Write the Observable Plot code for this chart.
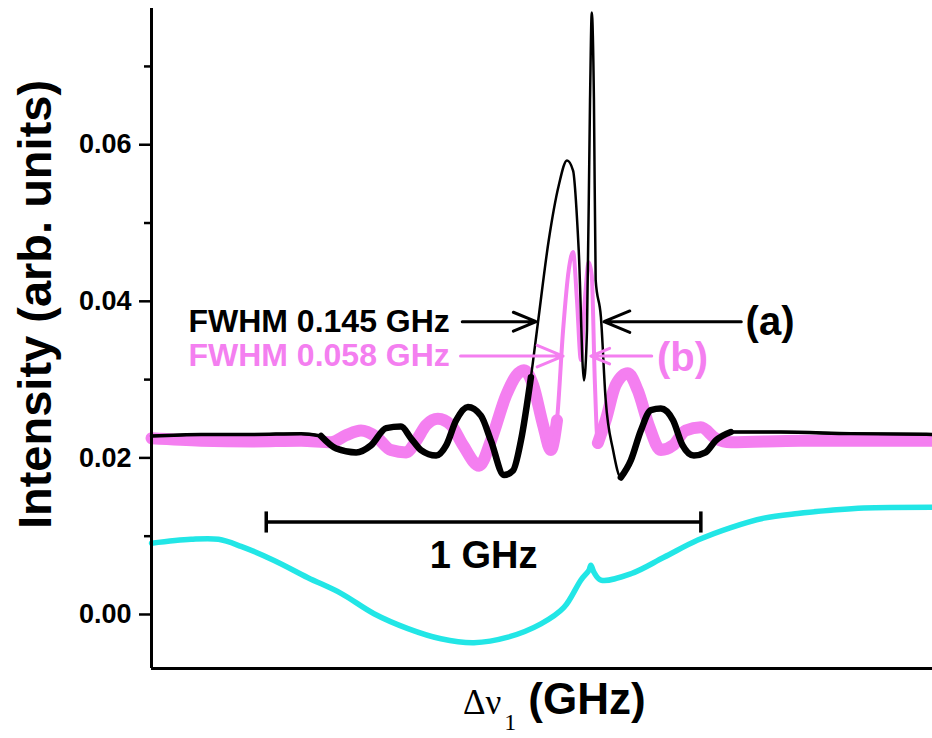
<!DOCTYPE html>
<html><head><meta charset="utf-8">
<script src="https://cdn.jsdelivr.net/npm/d3@7"></script>
<script src="https://cdn.jsdelivr.net/npm/@observablehq/plot@0.6"></script>
<style>
body{margin:0;background:#fff;}
#wrap{position:relative;width:932px;height:738px;overflow:hidden;}
#xlabel{position:absolute;top:677px;left:463px;white-space:nowrap;line-height:1;font-size:44px;}
#xlabel .dn{font-family:'Liberation Serif','Times New Roman',serif;font-size:35px;}
#xlabel .sub{font-family:'Liberation Serif','Times New Roman',serif;font-size:24px;position:relative;top:16px;margin-left:3px;}
#xlabel .ghz{font-family:'Liberation Sans',Arial,sans-serif;font-weight:bold;margin-left:12px;}
</style></head><body>
<div id="wrap"><div id="chart"></div>
<div id="xlabel"><span class="dn">Δν</span><span class="sub">1</span><span class="ghz">(GHz)</span></div>
</div>
<script>
// ---- data (x: detuning in GHz relative to the central spike; y: intensity, arb. units)
const aX = [-1.011,-0.897,-0.782,-0.667,-0.621,-0.586,-0.540,-0.506,-0.471,-0.437,
  -0.414,-0.391,-0.356,-0.333,-0.310,-0.283,-0.253,-0.230,-0.200,-0.179,
  -0.161,-0.138,-0.122,-0.097,-0.074,-0.055,-0.041,-0.028,-0.016,-0.009,
  -0.002,0.002,0.007,0.011,0.023,0.034,0.051,0.069,0.092,0.115,
  0.138,0.161,0.189,0.211,0.237,0.264,0.287,0.322,0.437,0.598,0.786];
const aY = [0.0228,0.0230,0.0230,0.0231,0.0228,0.0212,0.0207,0.0216,0.0238,0.0240,
  0.0225,0.0210,0.0203,0.0216,0.0248,0.0265,0.0254,0.0222,0.0178,0.0184,
  0.0222,0.0303,0.0372,0.0478,0.0548,0.0580,0.0567,0.0465,0.0299,0.0363,
  0.0657,0.0769,0.0657,0.0427,0.0380,0.0274,0.0210,0.0175,0.0197,0.0235,
  0.0261,0.0263,0.0248,0.0216,0.0203,0.0207,0.0222,0.0233,0.0233,0.0231,0.0230];

const bX = [-1.011,-0.897,-0.782,-0.667,-0.598,-0.563,-0.529,-0.494,-0.460,-0.425,
  -0.402,-0.379,-0.352,-0.322,-0.294,-0.257,-0.230,-0.195,-0.172,-0.154,
  -0.133,-0.110,-0.092,-0.078,-0.064,-0.051,-0.041,-0.032,-0.023,-0.014,
  -0.005,0.002,0.009,0.016,0.034,0.057,0.085,0.108,0.133,0.161,
  0.189,0.218,0.253,0.287,0.322,0.483,0.786];
const bY = [0.0225,0.0222,0.0221,0.0222,0.0220,0.0229,0.0235,0.0227,0.0210,0.0207,
  0.0222,0.0242,0.0250,0.0242,0.0216,0.0190,0.0222,0.0280,0.0305,0.0312,
  0.0293,0.0242,0.0210,0.0248,0.0363,0.0440,0.0463,0.0401,0.0325,0.0401,
  0.0450,0.0433,0.0299,0.0219,0.0248,0.0293,0.0308,0.0286,0.0242,0.0210,
  0.0216,0.0235,0.0239,0.0225,0.0220,0.0222,0.0222];

const cX = [-1.011,-0.920,-0.857,-0.805,-0.729,-0.651,-0.575,-0.499,-0.421,-0.345,
  -0.269,-0.191,-0.115,-0.062,-0.023,-0.005,0.000,0.007,0.023,0.092,
  0.168,0.246,0.322,0.398,0.476,0.552,0.628,0.786];
const cY = [0.0091,0.0096,0.0096,0.0087,0.0069,0.0047,0.0027,0.0001,-0.0018,-0.0031,
  -0.0036,-0.0029,-0.0012,0.0009,0.0044,0.0056,0.0063,0.0054,0.0044,0.0052,
  0.0073,0.0095,0.0111,0.0123,0.0129,0.0133,0.0136,0.0137];

const majorTicks = [0, 0.02, 0.04, 0.06];
const minorTicks = [0.01, 0.03, 0.05, 0.07];
const yLabel = "Intensity (arb. units)";
const fwhmLabels = ["FWHM 0.145 GHz", "FWHM 0.058 GHz"];
const seriesTags = ["(a)", "(b)"];
const scaleBarLabel = "1 GHz";

// ---- layout/annotation settings
const xDomain = [-1.011, 0.786];
const yDomain = [-0.0069, 0.0774];
const BLACK = "#000000", PINK = "#f47ff0", CYAN = "#22e6e6";
const ann = [
  {text: fwhmLabels[0], tag: seriesTags[0], color: BLACK, tx: -0.926, y: 0.0374, l1: -0.296, l2: -0.126, r1: 0.346, r2: 0.030, tagX: 0.356, tagY: 0.0373},
  {text: fwhmLabels[1], tag: seriesTags[1], color: PINK,  tx: -0.926, y: 0.0330, l1: -0.300, l2: -0.064, r1: 0.140, r2: 0.000, tagX: 0.152, tagY: 0.0327}
];
const bar = {x1: -0.747, x2: 0.253, y: 0.0118, capLo: 0.0104, capHi: 0.0131, labelY: 0.0075};

const A = aX.map((x, i) => ({x, y: aY[i]}));
const B = bX.map((x, i) => ({x, y: bY[i]}));
const C = cX.map((x, i) => ({x, y: cY[i]}));
// thicker (noisy) band portions away from the central peak
const Bthick = B.map(d => ({x: d.x, y: (d.x > -0.07 && d.x < 0.012) ? NaN : d.y}));
const Athick = A.map(d => ({x: d.x, y: ((d.x > -0.63 && d.x < -0.135) || (d.x > 0.06 && d.x < 0.33)) ? d.y : NaN}));
const Abase = A.map(d => ({x: d.x, y: ((d.x <= -0.62) || (d.x >= 0.32)) ? d.y : NaN}));

const fontSans = "'Liberation Sans', Arial, Helvetica, sans-serif";

const plot = Plot.plot({
  width: 932, height: 672,
  marginLeft: 151, marginRight: 0, marginTop: 8, marginBottom: 4,
  x: {domain: xDomain, axis: null},
  y: {domain: yDomain, axis: null},
  style: {fontFamily: fontSans, background: "white", color: "black"},
  marks: [
    Plot.axisY({ticks: majorTicks, tickSize: 12, tickPadding: 8, tickFormat: d3.format(".2f"),
      fontSize: 27, fontWeight: "bold", strokeWidth: 2.5, label: null}),
    Plot.axisY({ticks: minorTicks, tickSize: 7, tickFormat: () => "", strokeWidth: 2.5, label: null}),
    Plot.text([yLabel], {frameAnchor: "left", rotate: -90, dx: -116, dy: -34, text: d => d,
      textAnchor: "middle", lineAnchor: "middle", fontSize: 47, fontWeight: "bold", fill: BLACK}),
    // cyan reference trace
    Plot.line(C, {x: "x", y: "y", stroke: CYAN, strokeWidth: 5.5, curve: "catmull-rom"}),
    // pink (b)
    Plot.line(Bthick, {x: "x", y: "y", stroke: PINK, strokeWidth: 12, curve: "monotone-x"}),
    Plot.line(B, {x: "x", y: "y", stroke: PINK, strokeWidth: 4, curve: "monotone-x"}),
    // black (a)
    Plot.line(Abase, {x: "x", y: "y", stroke: BLACK, strokeWidth: 3.5, curve: "monotone-x"}),
    Plot.line(Athick, {x: "x", y: "y", stroke: BLACK, strokeWidth: 6.5, curve: "monotone-x"}),
    Plot.line(A, {x: "x", y: "y", stroke: BLACK, strokeWidth: 2.5, curve: "monotone-x"}),
    // FWHM annotations
    ...ann.flatMap(a => [
      Plot.text([a.text], {x: a.tx, y: a.y, text: d => d, textAnchor: "start", fontSize: 32, fontWeight: "bold", fill: a.color}),
      Plot.arrow([a], {x1: "l1", x2: "l2", y1: "y", y2: "y", stroke: a.color, strokeWidth: 3, headLength: 14, headAngle: 45}),
      Plot.arrow([a], {x1: "r1", x2: "r2", y1: "y", y2: "y", stroke: a.color, strokeWidth: 3, headLength: 14, headAngle: 45}),
      Plot.text([a.tag], {x: a.tagX, y: a.tagY, text: d => d, textAnchor: "start", fontSize: 40, fontWeight: "bold", fill: a.color})
    ]),
    // 1 GHz scale bar
    Plot.ruleY([bar.y], {x1: bar.x1, x2: bar.x2, stroke: BLACK, strokeWidth: 3.5}),
    Plot.ruleX([bar.x1, bar.x2], {y1: bar.capLo, y2: bar.capHi, stroke: BLACK, strokeWidth: 3.5}),
    Plot.text([scaleBarLabel], {x: (bar.x1 + bar.x2) / 2, y: bar.labelY, text: d => d, fontSize: 38, fontWeight: "bold", fill: BLACK}),
    // frame: left and bottom axis lines
    Plot.ruleX([xDomain[0]], {stroke: BLACK, strokeWidth: 3}),
    Plot.ruleY([yDomain[0]], {stroke: BLACK, strokeWidth: 3})
  ]
});
document.getElementById("chart").appendChild(plot);
</script>
</body></html>
